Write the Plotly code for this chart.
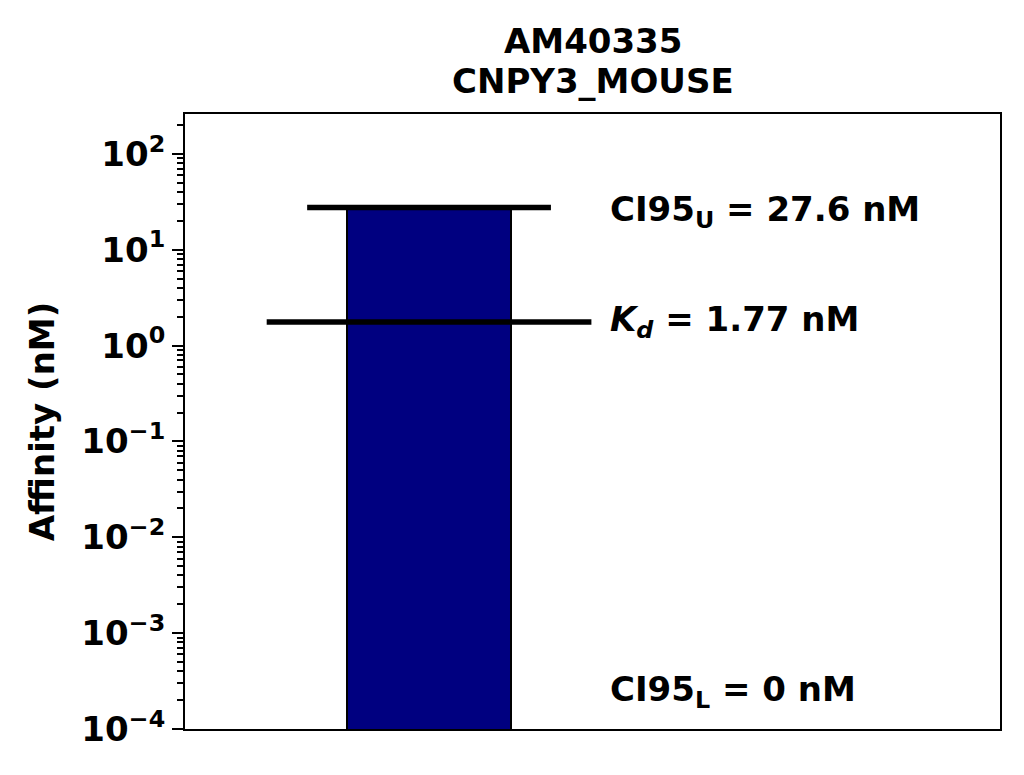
import plotly.graph_objects as go
import numpy as np

# ---- data ----
title_lines = ["AM40335", "CNPY3_MOUSE"]
kd_value = 1.77
ci95_upper = 27.6
ci95_lower = 0
bar_categories = [0]
bar_values = [ci95_upper]
y_label = "Affinity (nM)"
tick_exponents = [-4, -3, -2, -1, 0, 1, 2]

# ---- style constants ----
FONT = "DejaVu Sans"
BAR_W = 1.0
CI_HALF = 0.741
KD_HALF = 0.987
TEXT_X = 1.09
X_RANGE = [-1.4836, 3.471]
Y_RANGE = [-4, 2.417]
FS = 34

fig = go.Figure()

fig.add_trace(go.Bar(
    x=bar_categories, y=bar_values, width=BAR_W,
    marker=dict(color="#000080", line=dict(color="black", width=2)),
    showlegend=False, hoverinfo="skip",
))

fig.add_trace(go.Scatter(
    x=[bar_categories[0] - CI_HALF, bar_categories[0] + CI_HALF],
    y=[ci95_upper, ci95_upper], mode="lines",
    line=dict(color="black", width=5.5), showlegend=False, hoverinfo="skip",
))
fig.add_trace(go.Scatter(
    x=[bar_categories[0] - KD_HALF, bar_categories[0] + KD_HALF],
    y=[kd_value, kd_value], mode="lines",
    line=dict(color="black", width=5.5), showlegend=False, hoverinfo="skip",
))

afont = dict(family=FONT, size=FS, color="black")
fig.add_annotation(x=TEXT_X, y=np.log10(ci95_upper), xref="x", yref="y",
                   text=f"<b>CI95<sub>U</sub> = {ci95_upper} nM</b>",
                   showarrow=False, xanchor="left", yanchor="middle", font=afont, yshift=-4)
fig.add_annotation(x=TEXT_X, y=np.log10(kd_value), xref="x", yref="y",
                   text=f"<b><i>K</i><sub><i>d</i></sub> = {kd_value} nM</b>",
                   showarrow=False, xanchor="left", yanchor="middle", font=afont, yshift=0)
fig.add_annotation(x=TEXT_X, y=0.0643, xref="x", yref="paper",
                   text=f"<b>CI95<sub>L</sub> = {ci95_lower} nM</b>",
                   showarrow=False, xanchor="left", yanchor="middle", font=afont, yshift=-2)

# title (two lines)
for line, ypos in zip(title_lines, [1.1185, 1.0536]):
    fig.add_annotation(x=0.5, y=ypos, xref="paper", yref="paper",
                       text="<b>" + line + "</b>",
                       showarrow=False, xanchor="center", yanchor="middle",
                       font=dict(family=FONT, size=FS, color="black"))

minor_vals = [m * 10.0 ** k for k in range(-4, 3) for m in range(2, 10)]
tick_vals = [10.0 ** e for e in tick_exponents]
tick_text = [f"<b>10<sup>{'−' if e < 0 else ''}{abs(e)}</sup></b>" for e in tick_exponents]

fig.update_layout(
    width=1024, height=775,
    margin=dict(l=177, r=32, t=106, b=54),
    paper_bgcolor="white", plot_bgcolor="white",
    font=dict(family=FONT, color="black"),
    bargap=0,
)
fig.update_xaxes(range=X_RANGE, showticklabels=False, ticks="", showgrid=False,
                 zeroline=False, showline=True, linecolor="black", linewidth=2, mirror=True)
fig.update_yaxes(type="log", range=Y_RANGE, tickvals=tick_vals, ticktext=tick_text,
                 showgrid=False, zeroline=False, showline=True, linecolor="black",
                 linewidth=2, mirror=True, ticks="outside", ticklen=11, tickwidth=2,
                 tickcolor="black",
                 tickfont=dict(family=FONT, size=34, color="black"),
                 title=dict(text="<b>" + y_label + "</b>",
                            font=dict(family=FONT, size=FS, color="black"), standoff=16),
                 minor=dict(tickvals=minor_vals, ticks="outside", ticklen=6,
                            tickwidth=1.5, tickcolor="black", showgrid=False))

fig.write_html("out.html")
